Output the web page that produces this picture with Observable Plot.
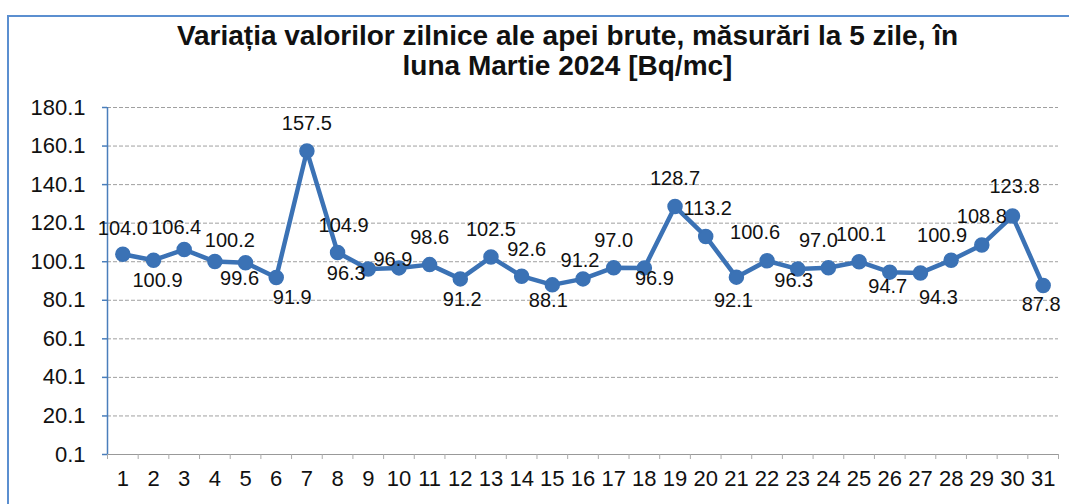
<!DOCTYPE html>
<html>
<head>
<meta charset="utf-8">
<script src="https://cdn.jsdelivr.net/npm/d3@7"></script>
<script src="https://cdn.jsdelivr.net/npm/@observablehq/plot@0.6"></script>
<style>
  html, body { margin: 0; padding: 0; background: #fff; }
  #wrap { position: relative; width: 1069px; height: 504px; overflow: hidden; }
  #frame { position: absolute; left: 7px; top: 15px; width: 1100px; height: 600px;
           border-left: 2px solid #5b8fd0; border-top: 2px solid #5b8fd0; }
  #title { position: relative; height: 90px; box-sizing: border-box; padding-top: 21px; padding-left: 66px;
           text-align: center; font-family: "Liberation Sans", Arial, sans-serif;
           font-weight: bold; font-size: 28px; line-height: 30px; color: #111; }
  #chart { position: relative; }
</style>
</head>
<body>
<div id="wrap">
  <div id="frame"></div>
  <div id="title">Variația valorilor zilnice ale apei brute, măsurări la 5 zile, în<br>luna Martie 2024 [Bq/mc]</div>
  <div id="chart"></div>
</div>
<script>
const days = [1,2,3,4,5,6,7,8,9,10,11,12,13,14,15,16,17,18,19,20,21,22,23,24,25,26,27,28,29,30,31];
const values = [104.0,100.9,106.4,100.2,99.6,91.9,157.5,104.9,96.3,96.9,98.6,91.2,102.5,92.6,88.1,91.2,97.0,96.9,128.7,113.2,92.1,100.6,96.3,97.0,100.1,94.7,94.3,100.9,108.8,123.8,87.8];
// label offsets (pixels) relative to each point, as placed in the original chart
const labelDy = [-26,20,-22,-21,16,20,-27,-27,5,-8,-27,21,-28,-27,16,-18,-27,11,-28,-28,23,-28,12,-27,-27,14,25,-25,-28,-29,19];
const labelDx = [0,4,-8,15,-6,16,0,6,-22,-6,0,2,0,5,-4,-3,0,10,0,2,-3,-12,-4,-10,2,-2,18,-9,0,2,-2];
const yTicks = [0.1,20.1,40.1,60.1,80.1,100.1,120.1,140.1,160.1,180.1];

const data = days.map((d, i) => ({day: d, value: values[i], dx: labelDx[i], dy: labelDy[i]}));
const boundaries = days.map(d => d - 0.5).concat([days[days.length - 1] + 0.5]);

const lineColor = "#3b72b5";
const fontFam = "'Liberation Sans', Arial, sans-serif";

const labelMarks = data.map(d =>
  Plot.text([d], {x: "day", y: "value", text: r => r.value.toFixed(1), dx: d.dx, dy: d.dy, fontSize: 20, fill: "#111"})
);

const chart = Plot.plot({
  width: 1069,
  height: 414,
  marginTop: 17,
  marginBottom: 50,
  marginLeft: 107,
  marginRight: 11,
  style: {fontFamily: fontFam, background: "transparent", overflow: "visible"},
  x: {domain: [0.5, 31.5], axis: null, label: null},
  y: {domain: [0.1, 180.1], axis: null, label: null},
  marks: [
    Plot.gridY(yTicks, {stroke: "#777", strokeOpacity: 0.7, strokeDasharray: "4,2", strokeWidth: 1}),
    Plot.ruleY([0.1], {stroke: "#999", strokeWidth: 1.2}),
    Plot.axisX({ticks: boundaries, tickSize: 5, tickFormat: () => "", stroke: "#aaa", label: null}),
    Plot.axisX({ticks: days, tickSize: 0, tickPadding: 16, tickFormat: d => String(d), fontSize: 22, fill: "#111", label: null}),
    Plot.ruleX([0.5], {stroke: "#4a7ebb", strokeWidth: 1.5}),
    Plot.axisY({ticks: yTicks, tickSize: 5, tickPadding: 17, tickFormat: d => d.toFixed(1), fontSize: 22, fill: "#111", stroke: "#4a7ebb", strokeWidth: 1.5, label: null}),
    Plot.line(data, {x: "day", y: "value", stroke: lineColor, strokeWidth: 4.5, strokeLinejoin: "round"}),
    Plot.dot(data, {x: "day", y: "value", r: 7, fill: lineColor, stroke: lineColor}),
    ...labelMarks
  ]
});
document.getElementById("chart").appendChild(chart);
</script>
</body>
</html>
